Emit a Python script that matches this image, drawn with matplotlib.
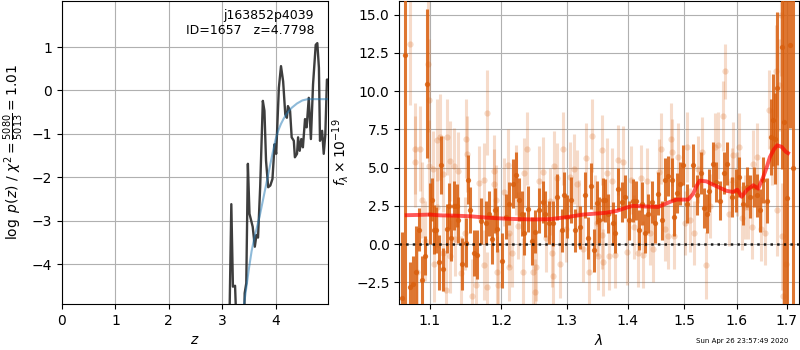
import numpy as np
import matplotlib
matplotlib.use('Agg')
import matplotlib.pyplot as plt
from matplotlib.ticker import FixedLocator, NullLocator, FormatStrFormatter

# p(z) panel
zgrid = [3.10, 3.14, 3.17, 3.20, 3.24, 3.26, 3.30, 3.35, 3.40, 3.42, 3.45, 3.48, 3.51, 3.57, 3.61,
         3.64, 3.67, 3.71, 3.76, 3.79, 3.82, 3.86, 3.90, 3.94, 3.98, 4.01, 4.06, 4.10, 4.14,
         4.18, 4.21, 4.23, 4.27, 4.30, 4.34, 4.36, 4.40, 4.42, 4.45, 4.48, 4.51, 4.55, 4.58,
         4.62, 4.66, 4.70, 4.75, 4.78, 4.81, 4.83, 4.87, 4.90, 4.93, 4.96, 4.98]
logpz = [-7.0, -4.9, -2.62, -4.52, -4.5, -5.2, -7.0, -7.0, -6.0, -4.67, -4.44, -1.69, -2.84, -3.14, -3.60,
         -3.33, -3.39, -2.23, -0.24, -0.47, -1.62, -2.23, -2.19, -2.04, -1.24, -1.46, 0.06, 0.56, 0.21,
         -0.55, -0.63, -0.36, -0.47, -1.08, -1.16, -1.54, -1.46, -1.08, -1.39, -1.12, -1.31, -0.66, -0.85,
         -0.17, -1.12, 0.14, 1.05, 1.09, 0.52, -1.16, -0.93, -1.46, -1.01, 0.25, 0.25]

zprior = [3.35, 3.40, 3.45, 3.50, 3.55, 3.60, 3.65, 3.70, 3.75, 3.80, 3.85, 3.90, 3.95, 4.00,
          4.05, 4.10, 4.15, 4.20, 4.25, 4.30, 4.40, 4.50, 4.60, 4.70, 4.98]
logprior = [-5.5, -5.0, -4.55, -4.1, -3.7, -3.4, -3.15, -2.9, -2.6, -2.3, -2.0, -1.7, -1.4, -1.12,
            -0.92, -0.77, -0.65, -0.55, -0.47, -0.40, -0.30, -0.23, -0.20, -0.20, -0.20]

# spectrum panel, dark points
wave_d = [1.063, 1.067, 1.0735, 1.0775, 1.081, 1.085, 1.089, 1.0937, 1.096, 1.100, 1.103, 1.1054,
          1.108, 1.112, 1.1153, 1.118, 1.1226, 1.1254, 1.129, 1.133, 1.1364, 1.1383, 1.1442, 1.149,
          1.1526, 1.1555, 1.1607, 1.1654, 1.1702, 1.1774, 1.1817, 1.1869, 1.1904, 1.1942, 1.2010,
          1.2069, 1.2118, 1.2168, 1.2218, 1.2267, 1.2302, 1.2337, 1.2402, 1.2463, 1.2504, 1.2570,
          1.2622, 1.2662, 1.2724, 1.2786, 1.2840, 1.2923, 1.2955, 1.3010, 1.3061, 1.3130, 1.3210,
          1.3291, 1.3345, 1.3389, 1.3443, 1.3482, 1.3525, 1.3581, 1.3619, 1.3674, 1.3748, 1.3787,
          1.3842, 1.3900, 1.3956, 1.4029, 1.4088, 1.4144, 1.4202, 1.4243, 1.4301, 1.4359, 1.4418,
          1.4476, 1.4535, 1.4595, 1.4654, 1.4713, 1.4774, 1.4816, 1.4865, 1.4925, 1.4985, 1.5059,
          1.5158, 1.5232, 1.5312, 1.5368, 1.5431, 1.5468, 1.5533, 1.5595, 1.5672, 1.5748, 1.5812,
          1.5897, 1.5981, 1.6045, 1.6124, 1.6191, 1.6256, 1.6336, 1.6402, 1.6456, 1.6522, 1.6591,
          1.6672, 1.6713, 1.6760, 1.6807, 1.6898, 1.6946, 1.7014, 1.7069, 1.7126]
flux_d = [-3.5, 12.4, -2.8, -2.6, -1.8, 0.95, -2.35, -0.75, 10.5, 2.0, 2.9, 0.95,
          0.9, -1.2, 5.2, -1.65, 1.0, 2.5, 0.4, 2.5, 2.5, 1.55, -1.3, 0.1,
          4.2, 2.25, -0.6, -0.7, 1.5, 1.4, 2.0, 0.3, 2.2, 1.0, -1.1,
          1.8, 2.65, 3.95, 4.5, 2.9, 2.0, 0.7, 2.3, 0.2, 0.8, 2.2,
          2.75, 1.95, 1.4, 1.35, 3.1, 0.9, 3.2, 1.8, 2.9, 0.9, 1.1,
          3.2, 0.4, 3.8, -0.4, 2.7, 1.6, 2.9, 2.87, 2.0, 1.35, 0.7,
          3.6, 2.75, 3.1, 1.55, 2.85, 2.85, 0.9, 2.65, 0.7, 2.0, 2.75,
          1.35, 3.3, 1.55, 4.2, 4.45, 4.2, 1.8, 3.35, 3.95, 5.15, 2.65,
          5.15, 3.2, 4.65, 2.35, 2.0, 3.5, 5.25, 4.05, 2.85, 4.65, 5.25,
          3.1, 3.5, 4.4, 2.65, 3.75, 3.1, 3.75, 3.2, 2.2, 4.2, 2.85,
          7.0, 8.1, 6.9, 10.2, 12.9, 8.0, 3.0, 13.0, 5.0]
err_d = [4.3, 20.0, 1.6, 1.8, 3.0, 1.4, 1.6, 1.3, 4.9, 2.0, 1.4, 1.6,
         1.5, 1.8, 1.9, 1.4, 1.6, 1.5, 1.5, 1.6, 1.4, 1.5, 1.7, 1.6,
         1.6, 1.5, 1.5, 1.6, 1.5, 1.4, 1.5, 1.6, 1.5, 1.5, 1.8,
         1.5, 1.4, 1.6, 1.5, 1.4, 1.5, 1.4, 1.5, 1.6, 1.4, 1.5,
         1.4, 1.5, 1.4, 1.5, 1.5, 1.4, 1.5, 1.4, 1.5, 1.4, 1.4,
         1.5, 1.4, 1.5, 1.4, 1.4, 1.5, 1.4, 1.4, 1.3, 1.4, 1.3,
         1.4, 1.3, 1.4, 1.3, 1.4, 1.3, 1.3, 1.4, 1.3, 1.3, 1.4,
         1.3, 1.4, 1.3, 1.4, 1.3, 1.4, 1.3, 1.3, 1.4, 1.3, 1.3,
         1.4, 1.3, 1.4, 1.3, 1.3, 1.4, 1.4, 1.3, 1.3, 1.4, 1.4,
         1.3, 1.4, 1.3, 1.4, 1.3, 1.4, 1.3, 1.4, 1.4, 1.5, 1.5,
         2.5, 3.0, 3.0, 5.0, 8.0, 30.0, 30.0, 5.4, 30.0]

# spectrum panel, light points
wave_l = [1.0739, 1.0797, 1.0804, 1.083, 1.0873, 1.0897, 1.093, 1.0973, 1.0985, 1.099, 1.104, 1.1054,
          1.109, 1.1098, 1.1133, 1.1175, 1.1176, 1.122, 1.1226, 1.127, 1.1275, 1.133, 1.1337,
          1.138, 1.142, 1.1476, 1.149, 1.151, 1.158, 1.164, 1.168, 1.1744, 1.1745, 1.1795,
          1.1799, 1.189, 1.190, 1.193, 1.1938, 1.1955, 1.2040, 1.2093, 1.2112, 1.2118, 1.2152,
          1.2218, 1.2250, 1.2329, 1.2344, 1.2389, 1.2478, 1.2504, 1.2519, 1.2570, 1.2632, 1.2680,
          1.2734, 1.2760, 1.2786, 1.2801, 1.2840, 1.2892, 1.2944, 1.2990, 1.3049, 1.3113, 1.3166,
          1.3200, 1.3253, 1.3307, 1.3362, 1.3411, 1.3455, 1.3480, 1.3509, 1.3566, 1.3572, 1.3592,
          1.3647, 1.3690, 1.3731, 1.3787, 1.3842, 1.3916, 1.3985, 1.4058, 1.4115, 1.4173, 1.4231,
          1.4272, 1.4330, 1.4388, 1.4447, 1.4553, 1.4578, 1.4654, 1.4713, 1.4756, 1.4774, 1.4816,
          1.4894, 1.5016, 1.5047, 1.5108, 1.5188, 1.5263, 1.5326, 1.5406, 1.5482, 1.5576, 1.5639,
          1.5724, 1.5768, 1.5852, 1.5897, 1.5929, 1.5994, 1.6045, 1.6092, 1.6157, 1.6222, 1.6289,
          1.6322, 1.6402, 1.6469, 1.6562, 1.6643, 1.6692, 1.6780, 1.6794, 1.6835, 1.6877, 1.6898,
          1.6932, 1.6987]
flux_l = [13.1, 5.4, 6.25, -1.8, 6.25, 2.9, 0.2, 11.8, 9.4, 5.1, 4.9, -1.3,
          2.4, 6.8, 7.0, 4.6, -0.6, -3.0, 7.0, 5.45, -0.8, 5.1, 0.3,
          4.8, -1.9, 0.7, 6.9, 5.9, -3.4, -2.65, 4.0, -1.35, 4.2, 8.6,
          -2.8, 3.9, 4.75, 2.9, -1.8, -2.65, 3.4, 5.2, -1.5, 0.7, -0.6,
          4.2, 1.2, -1.8, 4.65, 6.25, -1.8, -3.15, -1.5, 4.1, 4.7, 0.4,
          2.8, -0.6, -2.1, 5.1, 4.3, -1.3, 6.25, 1.0, 4.4, 4.9, 3.95,
          2.0, -0.3, 5.6, -1.8, 7.1, 2.3, 1.4, -0.8, 0.6, 6.15, -1.2,
          4.65, -0.8, 4.1, -0.7, 5.5, 5.4, -0.5, 4.2, 1.1, -0.6, 4.3,
          -0.7, 4.1, 0.7, -0.3, 4.7, 6.25, 1.0, 0.5, 6.9, 6.0, 0.5,
          5.7, 1.4, 6.35, 1.6, 0.7, 4.9, 6.0, -1.4, 2.5, 6.35, 6.45,
          8.4, 11.3, 2.0, 4.2, 5.8, 3.95, 6.35, 1.7, 2.4, 2.4, 1.1,
          5.25, 5.7, 1.0, 0.7, 8.8, 6.35, 11.3, 2.2, 10.4, 15.0, 0.5,
          -3.4, -1.3]
err_l = [4.0, 3.0, 3.0, 2.6, 2.8, 2.5, 2.6, 4.5, 4.0, 3.0, 2.5, 2.5,
         2.6, 2.7, 2.8, 2.5, 2.5, 2.6, 2.5, 2.6, 2.4, 2.5, 2.4,
         2.5, 2.4, 2.4, 2.6, 2.5, 2.4, 2.4, 2.4, 2.3, 2.4, 2.8,
         2.3, 2.3, 2.4, 2.3, 2.3, 2.3, 2.2, 2.3, 2.2, 2.2, 2.2,
         2.3, 2.2, 2.2, 2.3, 2.4, 2.2, 2.2, 2.2, 2.3, 2.3, 2.2,
         2.2, 2.2, 2.2, 2.3, 2.3, 2.2, 2.4, 2.2, 2.3, 2.3, 2.2,
         2.2, 2.2, 2.3, 2.2, 2.4, 2.2, 2.2, 2.2, 2.2, 2.3, 2.2,
         2.3, 2.2, 2.2, 2.2, 2.3, 2.3, 2.2, 2.2, 2.1, 2.2, 2.2,
         2.2, 2.2, 2.1, 2.2, 2.2, 2.3, 2.1, 2.1, 2.3, 2.2, 2.1,
         2.2, 2.1, 2.3, 2.1, 2.1, 2.2, 2.3, 2.2, 2.1, 2.2, 2.2,
         2.3, 1.8, 2.1, 2.1, 2.2, 2.1, 2.2, 2.1, 2.1, 2.1, 2.1,
         2.2, 2.2, 2.1, 2.1, 2.6, 2.5, 3.0, 3.0, 3.0, 4.0, 3.5,
         3.5, 4.0]

# best-fit model
wave_m = [1.0692, 1.0867, 1.100, 1.1135, 1.1341, 1.1551, 1.1764, 1.198, 1.2202, 1.2474, 1.2734,
          1.2997, 1.3258, 1.3619, 1.3815, 1.3985, 1.4093, 1.4301, 1.4535, 1.4744, 1.4865, 1.5077,
          1.5169, 1.5230, 1.529, 1.5419, 1.5500, 1.5609, 1.5800, 1.5928, 1.6007, 1.6050, 1.6092,
          1.6191, 1.6322, 1.6422, 1.6522, 1.6590, 1.6658, 1.6740, 1.6807, 1.6898, 1.6987, 1.7030]
flux_m = [1.89, 1.91, 1.93, 1.88, 1.86, 1.82, 1.74, 1.68, 1.64, 1.61, 1.63,
          1.76, 1.93, 2.04, 2.17, 2.39, 2.5, 2.46, 2.43, 2.76, 2.91, 2.91,
          3.3, 3.8, 4.15, 4.1, 3.95, 3.78, 3.48, 3.41, 3.56, 3.35, 3.09,
          3.52, 3.85, 3.63, 4.39, 5.0, 5.7, 6.2, 6.46, 6.36, 6.03, 5.95]

c_spec = '#d95f0e'

fig = plt.figure(figsize=(8, 3.5), dpi=100)
ax1 = fig.add_axes([0.0775, 0.1314, 0.3325, 0.8657])
ax2 = fig.add_axes([0.4991, 0.1314, 0.4994, 0.8657])

ax1.plot(zgrid, logpz, color='0.2', lw=1.7, alpha=0.95)
ax1.plot(zprior, logprior, color='tab:blue', lw=1.5, alpha=0.5)
ax1.set_xlim(0, 4.98)
ax1.set_ylim(-4.92, 2.06)
ax1.set_xticks([0, 1, 2, 3, 4])
ax1.set_yticks([-4, -3, -2, -1, 0, 1])
ax1.grid(True)
ax1.set_axisbelow(True)
ax1.set_xlabel('$z$')
ax1.set_ylabel(r'$\log\ p(z)$ / $\chi^2=\frac{5080}{5013}=1.01$')
ax1.text(0.948, 0.975, 'j163852p4039\nID=1657   z=4.7798', ha='right', va='top',
         transform=ax1.transAxes, fontsize=9)

ax2.errorbar(wave_l, flux_l, yerr=err_l, fmt='o', color=c_spec, alpha=0.22,
             ms=4.5, elinewidth=2.2, mew=0, zorder=2)
ax2.errorbar(wave_d, flux_d, yerr=err_d, fmt='o', color=c_spec, alpha=0.85,
             ms=3.8, elinewidth=2.2, mew=0, zorder=3)
ax2.plot(wave_m, flux_m, color='r', lw=2.8, alpha=0.65, zorder=4)
ax2.axhline(0, color='k', ls=':', lw=1.8, alpha=0.85, zorder=5)

ax2.set_xscale('log')
ax2.set_xlim(1.0596, 1.7255)
ax2.set_ylim(-3.92, 15.9)
ax2.xaxis.set_major_locator(FixedLocator([1.1, 1.2, 1.3, 1.4, 1.5, 1.6, 1.7]))
ax2.xaxis.set_major_formatter(FormatStrFormatter('%.1f'))
ax2.xaxis.set_minor_locator(NullLocator())
ax2.set_yticks([-2.5, 0.0, 2.5, 5.0, 7.5, 10.0, 12.5, 15.0])
ax2.grid(True)
ax2.set_axisbelow(True)
ax2.set_xlabel(r'$\lambda$')
ax2.set_ylabel(r'$f_\lambda\times10^{-19}$')

fig.text(0.985, 0.018, 'Sun Apr 26 23:57:49 2020', ha='right', va='bottom', fontsize=5)

fig.savefig('out.png', dpi=100)
